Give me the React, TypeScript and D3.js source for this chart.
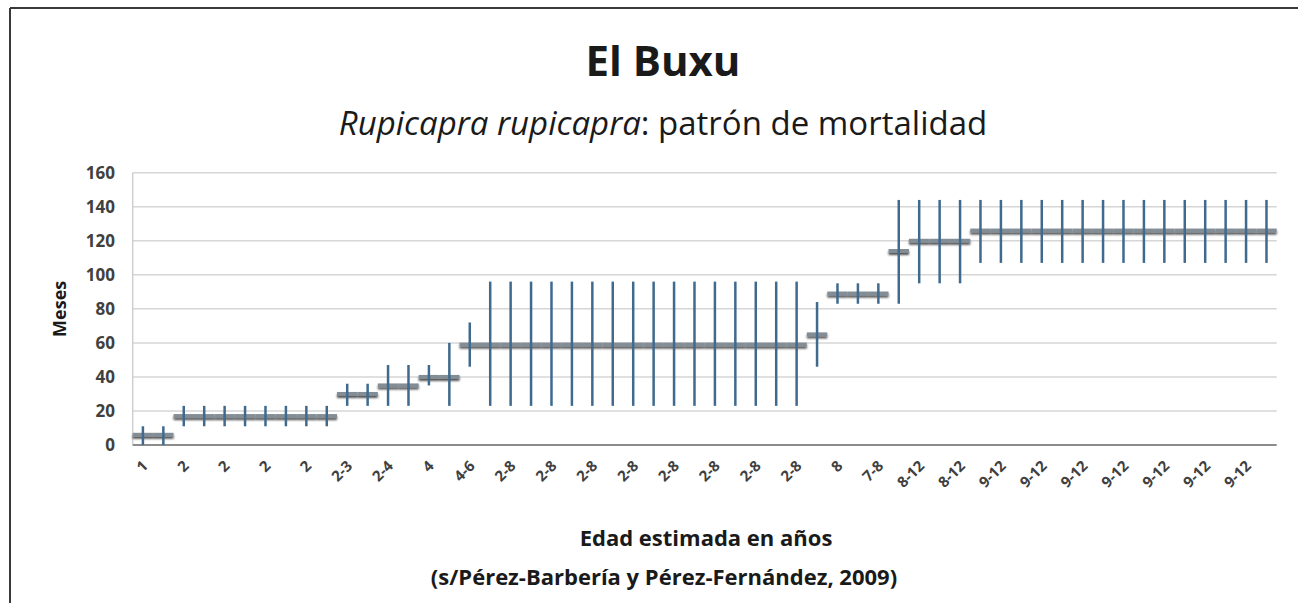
import React from "react";
import * as d3 from "d3";

// mean age (months) and high/low range per individual
const meanMonths = [
  6, 6, 17, 17, 17, 17, 17, 17, 17, 17, 30, 30, 35, 35, 40, 40,
  59, 59, 59, 59, 59, 59, 59, 59, 59, 59, 59, 59, 59, 59, 59, 59, 59,
  65, 89, 89, 89, 114, 120, 120, 120,
  126, 126, 126, 126, 126, 126, 126, 126, 126, 126, 126, 126, 126, 126, 126,
];
const highMonths = [
  11, 11, 23, 23, 23, 23, 23, 23, 23, 23, 36, 36, 47, 47, 47, 60,
  72, 96, 96, 96, 96, 96, 96, 96, 96, 96, 96, 96, 96, 96, 96, 96, 96,
  84, 95, 95, 95, 144, 144, 144, 144,
  144, 144, 144, 144, 144, 144, 144, 144, 144, 144, 144, 144, 144, 144, 144,
];
const lowMonths = [
  0, 0, 11, 11, 11, 11, 11, 11, 11, 11, 23, 23, 23, 23, 35, 23,
  46, 23, 23, 23, 23, 23, 23, 23, 23, 23, 23, 23, 23, 23, 23, 23, 23,
  46, 83, 83, 83, 83, 95, 95, 95,
  107, 107, 107, 107, 107, 107, 107, 107, 107, 107, 107, 107, 107, 107, 107,
];
// axis labels, shown on every other individual
const tickLabels = [
  "1", "2", "2", "2", "2", "2-3", "2-4", "4", "4-6",
  "2-8", "2-8", "2-8", "2-8", "2-8", "2-8", "2-8", "2-8",
  "8", "7-8", "8-12", "8-12",
  "9-12", "9-12", "9-12", "9-12", "9-12", "9-12", "9-12",
];
const yTicks = [0, 20, 40, 60, 80, 100, 120, 140, 160];

export default function App() {
  const width = 1298;
  const height = 603;
  const plot = { left: 132.7, right: 1276.7, top: 172.7, bottom: 445 };

  const idx = meanMonths.map((_, i) => i);
  const x = d3.scaleBand<number>().domain(idx).range([plot.left, plot.right]);
  const y = d3.scaleLinear().domain([0, 160]).range([plot.bottom, plot.top]);
  const bw = x.bandwidth();
  const cx = (i: number) => (x(i) as number) + bw / 2;

  const font = "'Open Sans', 'Liberation Sans', sans-serif";

  return (
    <svg
      width={width}
      height={height}
      style={{ position: "absolute", left: 0, top: 0, background: "#fff" }}
      fontFamily={font}
    >
      <defs>
        <filter id="shadow" x="-10%" y="-100%" width="120%" height="400%">
          <feGaussianBlur in="SourceAlpha" stdDeviation="1.3" />
          <feOffset dx="0" dy="1.5" result="b" />
          <feComponentTransfer>
            <feFuncA type="linear" slope="0.7" />
          </feComponentTransfer>
          <feMerge>
            <feMergeNode />
            <feMergeNode in="SourceGraphic" />
          </feMerge>
        </filter>
      </defs>

      {/* frame */}
      <line x1={10} x2={width} y1={8} y2={8} stroke="#3a3a3a" strokeWidth={2} />
      <line x1={10} x2={10} y1={8} y2={height} stroke="#3a3a3a" strokeWidth={2} />

      {/* titles */}
      <text x={663} y={76} textAnchor="middle" fontSize={42} fontWeight="bold" fill="#1a1a1a">
        El Buxu
      </text>
      <text x={663} y={135} textAnchor="middle" fontSize={33} fill="#1a1a1a">
        <tspan fontStyle="italic">Rupicapra rupicapra</tspan>
        <tspan>: patrón de mortalidad</tspan>
      </text>

      {/* grid */}
      {yTicks.slice(1).map((t) => (
        <line key={t} x1={plot.left} x2={plot.right} y1={y(t)} y2={y(t)} stroke="#d6d6d6" strokeWidth={1.5} />
      ))}
      <line x1={plot.left} x2={plot.left} y1={plot.top} y2={plot.bottom} stroke="#d0d0d0" strokeWidth={1.5} />
      <line x1={plot.left} x2={plot.right} y1={plot.bottom} y2={plot.bottom} stroke="#8c8c8c" strokeWidth={2} />

      {/* y tick labels */}
      {yTicks.map((t) => (
        <text key={t} x={115} y={y(t)} dy="0.36em" textAnchor="end" fontSize={17} fontWeight="bold" fill="#404040">
          {t}
        </text>
      ))}
      <text
        transform={`translate(66, ${(plot.top + plot.bottom) / 2}) rotate(-90)`}
        textAnchor="middle"
        fontSize={18}
        fontWeight="bold"
        fill="#1a1a1a"
      >
        Meses
      </text>

      {/* mean markers */}
      <g filter="url(#shadow)">
        {meanMonths.map((m, i) => (
          <line key={i} x1={x(i)} x2={(x(i) as number) + bw} y1={y(m)} y2={y(m)} stroke="#838d96" strokeWidth={4} />
        ))}
      </g>

      {/* high-low ranges */}
      {idx.map((i) => (
        <line
          key={i}
          x1={cx(i)}
          x2={cx(i)}
          y1={y(highMonths[i])}
          y2={y(lowMonths[i])}
          stroke="#3f6a8e"
          strokeWidth={2.5}
        />
      ))}

      {/* x tick labels */}
      {tickLabels.map((lab, k) => (
        <text
          key={k}
          transform={`translate(${cx(k * 2) + 6}, 467) rotate(-45)`}
          textAnchor="end"
          fontSize={15}
          fontWeight="bold"
          fill="#404040"
        >
          {lab}
        </text>
      ))}

      {/* x axis titles */}
      <text x={706} y={546} textAnchor="middle" fontSize={22} fontWeight="bold" fill="#1a1a1a">
        Edad estimada en años
      </text>
      <text x={664} y={585} textAnchor="middle" fontSize={22} fontWeight="bold" fill="#1a1a1a">
        (s/Pérez-Barbería y Pérez-Fernández, 2009)
      </text>
    </svg>
  );
}
